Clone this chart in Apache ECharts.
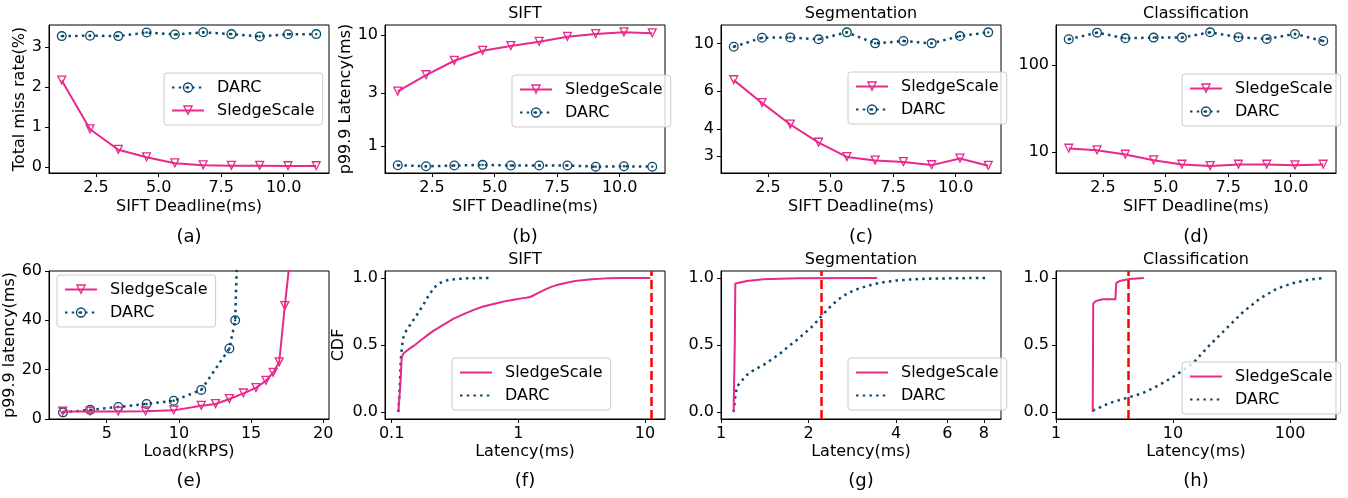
<!DOCTYPE html>
<html><head><meta charset="utf-8">
<script src="https://cdn.jsdelivr.net/npm/echarts@6/dist/echarts.min.js"></script>
<style>html,body{margin:0;padding:0;background:#fff}#c{width:1348px;height:498px}</style>
</head><body><div id="c"></div>
<script>
// ---------- data ----------
const siftDeadline = [1.13, 2.26, 3.39, 4.52, 5.65, 6.78, 7.91, 9.04, 10.17, 11.3];
const missDARC = [3.28, 3.29, 3.28, 3.37, 3.32, 3.375, 3.33, 3.27, 3.325, 3.33];
const missSS = [2.17, 0.95, 0.44, 0.25, 0.10, 0.05, 0.04, 0.04, 0.03, 0.03];
const siftP999SS = [3.1, 4.35, 5.86, 7.21, 7.95, 8.7, 9.65, 10.2, 10.6, 10.36];
const siftP999DARC = [0.67, 0.655, 0.665, 0.675, 0.665, 0.665, 0.665, 0.65, 0.655, 0.65];
const segP999DARC = [9.64, 10.62, 10.66, 10.44, 11.25, 10.0, 10.25, 10.0, 10.81, 11.25];
const segP999SS = [6.75, 5.29, 4.20, 3.46, 2.97, 2.86, 2.81, 2.72, 2.92, 2.70];
const clsP999DARC = [198, 236, 203, 207, 207, 238, 209, 200, 228, 189];
const clsP999SS = [10.94, 10.46, 9.33, 8.02, 7.16, 6.9, 7.16, 7.16, 7.03, 7.16];

const loadDARC = [1.97, 3.85, 5.8, 7.76, 9.64, 11.55, 13.5, 13.9, 14.2];
const loadP999DARC = [2.7, 3.7, 4.9, 6.1, 7.4, 11.8, 28.6, 40, 100];
const loadSS = [1.95, 3.85, 5.8, 7.69, 9.64, 11.55, 12.54, 13.5, 14.47, 15.34, 16.03, 16.53, 16.95, 17.34, 17.9];
const loadP999SS = [3.0, 3.0, 3.0, 3.1, 3.5, 5.4, 6.1, 8.1, 10.4, 12.6, 15.5, 18.8, 23, 45.8, 76];

const siftLatSS = [0.113, 0.117, 0.12, 0.122, 0.125, 0.135, 0.15, 0.17, 0.19, 0.213, 0.25, 0.306, 0.37, 0.44, 0.52, 0.6, 0.7, 0.81, 0.92, 1.03, 1.15, 1.24, 1.35, 1.48, 1.62, 1.78, 2.05, 2.41, 2.75, 3.06, 3.8, 4.97, 7.0, 9.1, 11.0];
const siftCdfSS = [0, 0.2, 0.40, 0.425, 0.44, 0.465, 0.495, 0.535, 0.57, 0.605, 0.645, 0.695, 0.73, 0.76, 0.785, 0.80, 0.815, 0.829, 0.838, 0.846, 0.853, 0.858, 0.875, 0.895, 0.913, 0.93, 0.95, 0.965, 0.975, 0.982, 0.99, 0.997, 0.999, 1.0, 1.0];
const siftLatDARC = [0.113, 0.116, 0.118, 0.121, 0.124, 0.131, 0.14, 0.148, 0.157, 0.167, 0.178, 0.189, 0.2, 0.213, 0.226, 0.24, 0.26, 0.288, 0.33, 0.39, 0.5, 0.615];
const siftCdfDARC = [0, 0.2, 0.388, 0.5, 0.56, 0.611, 0.65, 0.685, 0.72, 0.76, 0.80, 0.846, 0.88, 0.92, 0.945, 0.962, 0.977, 0.987, 0.993, 0.997, 0.999, 1.0];

const segLatSS = [1.105, 1.115, 1.12, 1.135, 1.228, 1.4, 1.82, 3.44];
const segCdfSS = [0, 0.5, 0.958, 0.97, 0.977, 0.99, 0.997, 1.0];
const segLatDARC = [1.105, 1.12, 1.135, 1.18, 1.228, 1.3, 1.4, 1.5, 1.6, 1.7, 1.82, 1.95, 2.08, 2.22, 2.37, 2.53, 2.71, 2.9, 3.09, 3.3, 3.53, 4.03, 4.59, 5.2, 5.98, 7.0, 8.1];
const segCdfDARC = [0, 0.12, 0.19, 0.235, 0.277, 0.315, 0.351, 0.395, 0.438, 0.487, 0.537, 0.592, 0.648, 0.718, 0.784, 0.84, 0.883, 0.912, 0.932, 0.95, 0.965, 0.982, 0.99, 0.995, 0.997, 0.999, 1.0];

const clsLatSS = [2.06, 2.08, 2.2, 2.51, 3.22, 3.27, 3.49, 4.25, 5.63];
const clsCdfSS = [0, 0.81, 0.829, 0.841, 0.841, 0.962, 0.977, 0.992, 1.0];
const clsLatDARC = [2.06, 2.86, 3.98, 5.53, 7.68, 10.67, 14.8, 20.6, 28.6, 39.8, 55.2, 76.8, 106.6, 140, 192.6];
const clsCdfDARC = [0.01, 0.067, 0.104, 0.141, 0.203, 0.277, 0.364, 0.5, 0.624, 0.747, 0.846, 0.92, 0.962, 0.985, 1.0];

const deadlines = [11.3, 2.21, 4.11];

const ticksDeadline = [2.5, 5, 7.5, 10];
const ticksMiss = [0, 1, 2, 3];
const ticksSiftP = [1, 3, 10];
const ticksSegP = [3, 4, 6, 10];
const ticksClsP = [10, 100];
const ticksLoad = [5, 10, 15, 20];
const ticksLoadP = [0, 20, 40, 60];
const ticksCdf = [0, 0.5, 1];
const ticksLatSift = [0.1, 1, 10];
const ticksLatSeg = [1, 2, 4, 6, 8];
const ticksLatCls = [1, 10, 100];

// ---------- styling ----------
const FONT = '"DejaVu Sans", sans-serif';
const C_SS = '#e7298a';
const C_D = '#0b4a6a';
const TRI = 'path://M0,0L20,0L10,20ZM4.21,2.6L10,14.19L15.79,2.6Z';
const RING = 'path://M10,0A10,10,0,1,1,10,20A10,10,0,1,1,10,0ZM10,2.6A7.4,7.4,0,1,0,10,17.4A7.4,7.4,0,1,0,10,2.6ZM10,7.6A2.4,2.4,0,1,1,10,12.4A2.4,2.4,0,1,1,10,7.6Z';
const DOT = [2.5, 4.2];

const lefts = [49, 385, 721, 1056];
const tops = [25, 271];
const grids = [];
for (let r = 0; r < 2; r++) for (let c = 0; c < 4; c++) {
  grids.push({left: lefts[c], top: tops[r], width: 280, height: 148, show: true,
    borderColor: '#000', borderWidth: 1, backgroundColor: 'transparent', containLabel: false});
}

const fmtNum = v => String(+(+v).toPrecision(6));
function axis(gi, type, min, max, ticks, fmt, name, gap) {
  return {
    gridIndex: gi, type: type, min: min, max: max,
    logBase: 10,
    name: name || '', nameLocation: 'middle', nameGap: gap || 20,
    nameTextStyle: {color: '#000', fontSize: 16, fontFamily: FONT},
    axisLine: {show: true, onZero: false, lineStyle: {color: '#000', width: 1}},
    axisTick: {show: true, inside: false, length: 4, lineStyle: {color: '#000', width: 1}, customValues: ticks},
    minorTick: {show: false},
    axisLabel: {show: true, color: '#000', fontSize: 16, fontFamily: FONT, margin: 7,
      customValues: ticks, formatter: fmt || fmtNum},
    splitLine: {show: false}
  };
}
const fix1 = v => (+v).toFixed(1);

const xAxis = [
  axis(0, 'value', 0.62, 11.81, ticksDeadline, fix1, 'SIFT Deadline(ms)', 26),
  axis(1, 'value', 0.62, 11.81, ticksDeadline, fix1, 'SIFT Deadline(ms)', 26),
  axis(2, 'value', 0.62, 11.81, ticksDeadline, fix1, 'SIFT Deadline(ms)', 26),
  axis(3, 'value', 0.62, 11.81, ticksDeadline, fix1, 'SIFT Deadline(ms)', 26),
  axis(4, 'value', 1.0, 20.4, ticksLoad, null, 'Load(kRPS)', 25),
  axis(5, 'log', 0.0886, 14.38, ticksLatSift, null, 'Latency(ms)', 25),
  axis(6, 'log', 1.0, 9.17, ticksLatSeg, null, 'Latency(ms)', 25),
  axis(7, 'log', 1.0, 247, ticksLatCls, null, 'Latency(ms)', 25)
];
const yAxis = [
  axis(0, 'value', -0.1425, 3.5575, ticksMiss, null, 'Total miss rate(%)', 21),
  axis(1, 'log', 0.57, 12.31, ticksSiftP, null, 'p99.9 Latency(ms)', 22),
  axis(2, 'log', 2.50, 12.17, ticksSegP, null, '', 20),
  axis(3, 'log', 5.73, 289, ticksClsP, null, '', 20),
  axis(4, 'value', 0, 60, ticksLoadP, null, 'p99.9 latency(ms)', 24),
  axis(5, 'value', -0.052, 1.052, ticksCdf, fix1, 'CDF', 38),
  axis(6, 'value', -0.052, 1.052, ticksCdf, fix1, '', 20),
  axis(7, 'value', -0.052, 1.052, ticksCdf, fix1, '', 20)
];

const zip = (xs, ys) => xs.map((x, i) => [x, ys[i]]);
function ssMarked(gi, xs, ys) {
  return {type: 'line', name: 'SledgeScale', xAxisIndex: gi, yAxisIndex: gi, data: zip(xs, ys),
    symbol: TRI, symbolSize: 10, showAllSymbol: true, clip: true,
    itemStyle: {color: C_SS}, lineStyle: {color: C_SS, width: 2}, z: 3};
}
function dMarked(gi, xs, ys) {
  return {type: 'line', name: 'DARC', xAxisIndex: gi, yAxisIndex: gi, data: zip(xs, ys),
    symbol: RING, symbolSize: 10, showAllSymbol: true, clip: true,
    itemStyle: {color: C_D}, lineStyle: {color: C_D, width: 2.5, type: DOT, cap: 'butt'}, z: 2};
}
function ssCdf(gi, xs, ys, dl) {
  return {type: 'line', name: 'SledgeScale_cdf', xAxisIndex: gi, yAxisIndex: gi, data: zip(xs, ys),
    symbol: 'none', clip: true, itemStyle: {color: C_SS}, lineStyle: {color: C_SS, width: 2}, z: 3,
    markLine: {silent: true, symbol: ['none', 'none'], label: {show: false},
      lineStyle: {color: '#ff0000', width: 2.5, type: [9, 4]}, emphasis: {disabled: true},
      data: [{xAxis: dl}]}};
}
function dCdf(gi, xs, ys) {
  return {type: 'line', name: 'DARC_cdf', xAxisIndex: gi, yAxisIndex: gi, data: zip(xs, ys),
    symbol: 'none', clip: true, itemStyle: {color: C_D},
    lineStyle: {color: C_D, width: 2.5, type: DOT, cap: 'butt'}, z: 2};
}

const series = [
  dMarked(0, siftDeadline, missDARC), ssMarked(0, siftDeadline, missSS),
  ssMarked(1, siftDeadline, siftP999SS), dMarked(1, siftDeadline, siftP999DARC),
  ssMarked(2, siftDeadline, segP999SS), dMarked(2, siftDeadline, segP999DARC),
  ssMarked(3, siftDeadline, clsP999SS), dMarked(3, siftDeadline, clsP999DARC),
  ssMarked(4, loadSS, loadP999SS), dMarked(4, loadDARC, loadP999DARC),
  ssCdf(5, siftLatSS, siftCdfSS, deadlines[0]), dCdf(5, siftLatDARC, siftCdfDARC),
  ssCdf(6, segLatSS, segCdfSS, deadlines[1]), dCdf(6, segLatDARC, segCdfDARC),
  ssCdf(7, clsLatSS, clsCdfSS, deadlines[2]), dCdf(7, clsLatDARC, clsCdfDARC)
];

function legend(left, top, data, cdf) {
  const l = {left: left, top: top, orient: 'vertical', data: data, itemWidth: 32, itemHeight: 13, itemGap: 4,
    padding: [5, 8, 5, 7], backgroundColor: 'rgba(255,255,255,0.8)', borderColor: '#cccccc', borderWidth: 1,
    borderRadius: 3, selectedMode: false,
    textStyle: {fontSize: 16, fontFamily: FONT, color: '#000', lineHeight: 19, padding: [0, 0, 0, 8]},
    formatter: n => n.split('_')[0]};
  if (cdf) l.itemStyle = {opacity: 0};
  return l;
}
const legends = [
  legend(164, 73, ['DARC', 'SledgeScale']),
  legend(512, 75, ['SledgeScale', 'DARC']),
  legend(848, 72, ['SledgeScale', 'DARC']),
  legend(1182, 74, ['SledgeScale', 'DARC']),
  legend(57, 275, ['SledgeScale', 'DARC']),
  legend(452, 358, ['SledgeScale_cdf', 'DARC_cdf'], true),
  legend(848, 358, ['SledgeScale_cdf', 'DARC_cdf'], true),
  legend(1182, 362, ['SledgeScale_cdf', 'DARC_cdf'], true)
];

const titleTexts = [['SIFT', 525, 14], ['Segmentation', 861, 14], ['Classification', 1196, 14],
  ['SIFT', 525, 260], ['Segmentation', 861, 260], ['Classification', 1196, 260]];
const subLabels = ['(a)', '(b)', '(c)', '(d)', '(e)', '(f)', '(g)', '(h)'];
const graphic = [];
titleTexts.forEach(t => graphic.push({type: 'text', x: t[1], y: t[2], silent: true,
  style: {text: t[0], fill: '#000', font: '16px ' + FONT, align: 'center', verticalAlign: 'middle'}}));
subLabels.forEach((s, i) => graphic.push({type: 'text', x: lefts[i % 4] + 140, y: i < 4 ? 237.5 : 481.5, silent: true,
  style: {text: s, fill: '#000', font: '18px ' + FONT, align: 'center', verticalAlign: 'middle'}}));

const chart = echarts.init(document.getElementById('c'), null, {renderer: 'canvas'});
chart.setOption({
  animation: false,
  backgroundColor: '#fff',
  grid: grids, xAxis: xAxis, yAxis: yAxis, series: series, legend: legends, graphic: graphic
});
</script></body></html>
